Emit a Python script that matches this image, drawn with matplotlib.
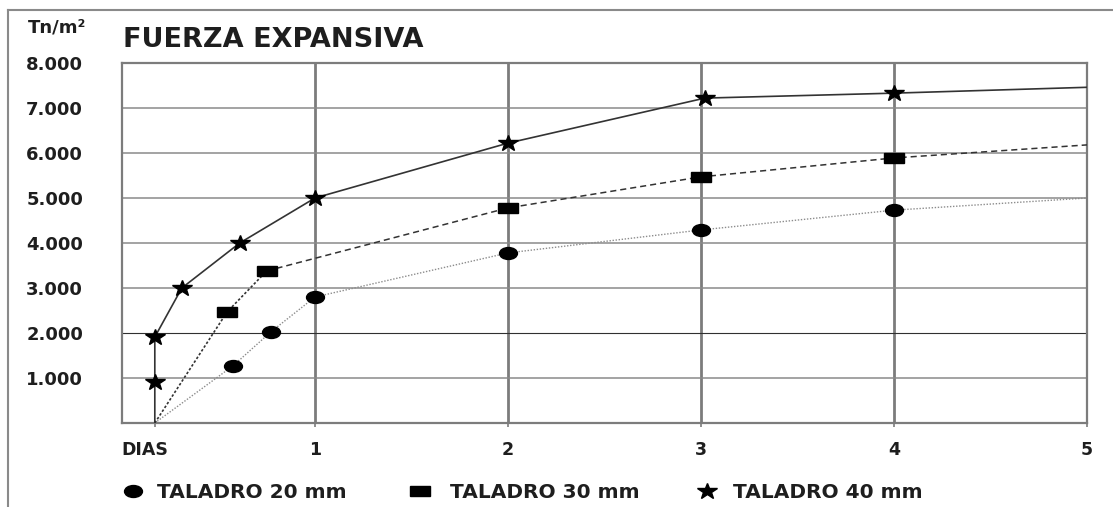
import matplotlib
matplotlib.use('Agg')
import matplotlib.pyplot as plt
from matplotlib.markers import MarkerStyle
from matplotlib.transforms import Affine2D
from matplotlib.lines import Line2D

# Datos (dias, Tn/m2)
dias_20 = [0.17, 0.575, 0.77, 1.0, 2.0, 3.0, 4.0, 5.0]
fuerza_20 = [0, 1270, 2020, 2800, 3780, 4290, 4730, 5000]

dias_30 = [0.17, 0.545, 0.75, 2.0, 3.0, 4.0, 5.0]
fuerza_30 = [0, 2470, 3380, 4780, 5470, 5890, 6180]

dias_40 = [0.17, 0.17, 0.17, 0.31, 0.61, 1.0, 2.0, 3.02, 4.0, 5.0]
fuerza_40 = [0, 910, 1910, 3000, 4000, 5000, 6220, 7220, 7330, 7460]

y_ticks = [1000, 2000, 3000, 4000, 5000, 6000, 7000, 8000]
x_ticks = [1, 2, 3, 4, 5]
etiquetas = ['TALADRO 20 mm', 'TALADRO 30 mm', 'TALADRO 40 mm']

W, H = 1113, 507
TXT = '#1e1e1e'
GRIS = '#7c7c7c'

plt.rcParams['font.family'] = ['DejaVu Sans']
plt.rcParams['font.weight'] = 'bold'

fig = plt.figure(figsize=(W / 100, H / 100), dpi=100)
ax = fig.add_axes([122 / W, 84 / H, 965 / W, 360 / H])

# marcadores algo estirados en horizontal, como en el original
m_circ = MarkerStyle('o', transform=Affine2D().scale(1.5, 1.0))
m_cuad = MarkerStyle('s', transform=Affine2D().scale(1.75, 1.0))
m_estr = MarkerStyle('*', transform=Affine2D().scale(1.27, 1.0))

# 20 mm - punteado claro
ax.plot(dias_20, fuerza_20, color='#8c8c8c', lw=1.0, ls=(0, (1, 1.2)),
        marker=m_circ, ms=8.6, mfc='black', mec='black',
        markevery=list(range(1, len(dias_20) - 1)), zorder=3)

# 30 mm - puntos finos al inicio, luego trazos
ax.plot(dias_30[:3], fuerza_30[:3], color='#333333', lw=1.2, ls=(0, (1.5, 1.2)), zorder=3)
ax.plot(dias_30[2:], fuerza_30[2:], color='#333333', lw=1.1, ls=(0, (4, 2.6)), zorder=3)
ax.plot(dias_30[1:-1], fuerza_30[1:-1], ls='none', marker=m_cuad, ms=7.9,
        mfc='black', mec='black', zorder=4)

# 40 mm - continua
ax.plot(dias_40, fuerza_40, color='#333333', lw=1.2, ls='-',
        marker=m_estr, ms=12, mfc='black', mec='black',
        markevery=list(range(1, len(dias_40) - 1)), zorder=3)

ax.set_xlim(0, 5)
ax.set_ylim(0, 8000)
ax.set_axisbelow(True)

ax.set_yticks(y_ticks)
ax.set_yticklabels([f"{v:,}".replace(',', '.') for v in y_ticks])
ax.set_xticks(x_ticks)
ax.set_xticklabels([str(v) for v in x_ticks])
ax.set_xticks([dias_40[0]], minor=True)

ax.grid(axis='x', which='major', color=GRIS, lw=2.0)
ax.grid(axis='y', color='#8a8a8a', lw=1.1)
ax.get_ygridlines()[1].set_color('#303030')
ax.get_ygridlines()[1].set_linewidth(0.8)

for s in ax.spines.values():
    s.set_color(GRIS)
    s.set_linewidth(1.6)

ax.tick_params(axis='y', length=0, pad=28, labelsize=13, labelcolor=TXT)
ax.tick_params(axis='x', which='both', length=3, width=1.2, color=GRIS,
               pad=10, labelsize=12.5, labelcolor=TXT)

fig.text(145 / W, 1 - 455 / H, 'DIAS', fontsize=12.5, weight='bold',
         color=TXT, ha='center', va='baseline')
fig.text(28 / W, 1 - 32 / H, 'Tn/m²', fontsize=13, weight='bold',
         color=TXT, ha='left', va='baseline')
fig.text(123 / W, 1 - 47 / H, 'FUERZA EXPANSIVA', fontsize=19.5, weight='bold',
         color=TXT, ha='left', va='baseline')

# leyenda: tres entradas sueltas en la fila inferior
handles = [Line2D([], [], ls='none', marker=m_circ, ms=8.6, color='black'),
           Line2D([], [], ls='none', marker=m_cuad, ms=7.9, color='black'),
           Line2D([], [], ls='none', marker=m_estr, ms=12, color='black')]
leg_x = [123, 410, 697]
leg_pad = [0.7, 1.0, 0.8]
for h, lab, x0, pad in zip(handles, etiquetas, leg_x, leg_pad):
    fig.legend(handles=[h], labels=[lab], loc='center left',
               bbox_to_anchor=(x0 / W, 1 - 493 / H), frameon=False,
               borderpad=0, borderaxespad=0, handlelength=1.0,
               handletextpad=pad, labelcolor=TXT,
               prop={'size': 14.5, 'weight': 'bold'})

# marco exterior de la figura (izquierda y arriba)
fig.add_artist(Line2D([8 / W, 8 / W], [0, 1 - 10 / H], transform=fig.transFigure,
                      color='#8a8a8a', lw=1.5))
fig.add_artist(Line2D([8 / W, 1], [1 - 10 / H, 1 - 10 / H], transform=fig.transFigure,
                      color='#8a8a8a', lw=1.5))

fig.savefig('out.png', dpi=100)
